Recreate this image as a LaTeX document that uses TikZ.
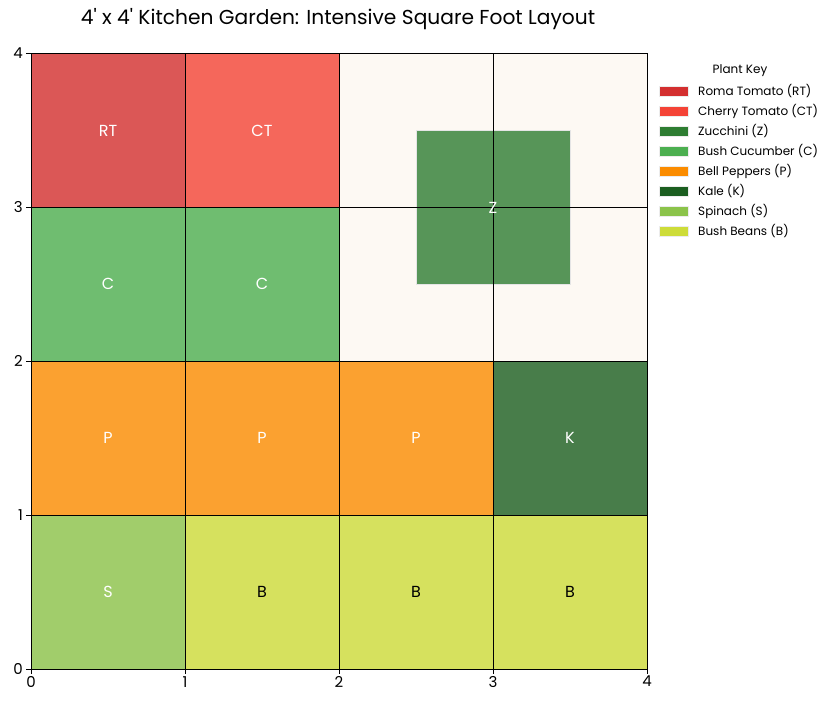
\documentclass[tikz,border=0pt]{standalone}
\usepackage{fontspec}
\setmainfont{Poppins}
\begin{document}
\begin{tikzpicture}[x=1pt,y=-1pt,
  cell/.style={fill opacity=0.8, draw=white!80!gray, line width=1pt},
  lbl/.style={font=\fontsize{16}{18}\selectfont, text=white, inner sep=0pt},
  tick/.style={font=\fontsize{15}{17}\selectfont, inner sep=0pt},
  key/.style={font=\fontsize{12}{14}\selectfont, anchor=west, inner sep=0pt},
  keybox/.style={minimum width=29pt, minimum height=10pt, inner sep=0pt, draw=white!85!gray, line width=0.4pt}
]
\useasboundingbox (0,0) rectangle (838,705);
\definecolor{cRT}{HTML}{D32F2F}
\definecolor{cCT}{HTML}{F44336}
\definecolor{cZ}{HTML}{2E7D32}
\definecolor{cC}{HTML}{4CAF50}
\definecolor{cP}{HTML}{FB8C00}
\definecolor{cK}{HTML}{1B5E20}
\definecolor{cS}{HTML}{8BC34A}
\definecolor{cB}{HTML}{CDDC39}
\definecolor{cream}{HTML}{FDF9F3}
% title
\node[font=\fontsize{20.2}{23}\selectfont, inner sep=0pt] (title) at (338,19) {4\textquotesingle{} x 4\textquotesingle{} Kitchen Garden: Intensive Square Foot Layout};
\begin{scope}[shift={(31,669)}, x=154pt, y=153.85pt]
  \fill[cream] (0,0) rectangle (4,4);
  % cells
  \fill[cRT, cell] (0,3) rectangle (1,4);
  \fill[cCT, cell] (1,3) rectangle (2,4);
  \fill[cC, cell] (0,2) rectangle (1,3);
  \fill[cC, cell] (1,2) rectangle (2,3);
  \fill[cP, cell] (0,1) rectangle (1,2);
  \fill[cP, cell] (1,1) rectangle (2,2);
  \fill[cP, cell] (2,1) rectangle (3,2);
  \fill[cK, cell] (3,1) rectangle (4,2);
  \fill[cS, cell] (0,0) rectangle (1,1);
  \fill[cB, cell] (1,0) rectangle (2,1);
  \fill[cB, cell] (2,0) rectangle (3,1);
  \fill[cB, cell] (3,0) rectangle (4,1);
  \fill[cZ, cell] (2.5,2.5) rectangle (3.5,3.5);
  % grid
  \foreach \i in {1,2,3} {
    \draw[black, line width=0.9pt] (\i,0) -- (\i,4);
    \draw[black, line width=0.9pt] (0,\i) -- (4,\i);
  }
  \draw[black, line width=0.9pt] (0,0) rectangle (4,4);
  % ticks
  \foreach \i in {0,1,2,3,4} {
    \draw[black, line width=0.8pt] (\i,0) -- ++(0,-5pt);
    \node[tick, anchor=north] (xt\i) at ([yshift=-7pt]\i,0) {\i};
    \draw[black, line width=0.8pt] (0,\i) -- ++(-5pt,0);
    \node[tick, anchor=east] (yt\i) at ([xshift=-8pt]0,\i) {\i};
  }
  % labels
  \node[lbl] (lRT) at (0.5,3.5) {RT};
  \node[lbl] (lCT) at (1.5,3.5) {CT};
  \node[lbl] (lC1) at (0.5,2.5) {C};
  \node[lbl] (lC2) at (1.5,2.5) {C};
  \node[lbl] (lZ) at (3,3) {Z};
  \node[lbl] (lP1) at (0.5,1.5) {P};
  \node[lbl] (lP2) at (1.5,1.5) {P};
  \node[lbl] (lP3) at (2.5,1.5) {P};
  \node[lbl] (lK) at (3.5,1.5) {K};
  \node[lbl] (lS) at (0.5,0.5) {S};
  \node[lbl, text=black] (lB1) at (1.5,0.5) {B};
  \node[lbl, text=black] (lB2) at (2.5,0.5) {B};
  \node[lbl, text=black] (lB3) at (3.5,0.5) {B};
\end{scope}
% legend
\node[font=\fontsize{12}{14}\selectfont, inner sep=0pt] (keytitle) at (740,71) {Plant Key};
\foreach \c/\t [count=\k from 0] in {cRT/Roma Tomato (RT), cCT/Cherry Tomato (CT), cZ/Zucchini (Z), cC/Bush Cucumber (C), cP/Bell Peppers (P), cK/Kale (K), cS/Spinach (S), cB/Bush Beans (B)} {
  \node[keybox, fill=\c] (kb\k) at (673.5, 91.5+20*\k) {};
  \node[key] (kt\k) at (698, 91.5+20*\k) {\t};
}
\end{tikzpicture}
\end{document}
